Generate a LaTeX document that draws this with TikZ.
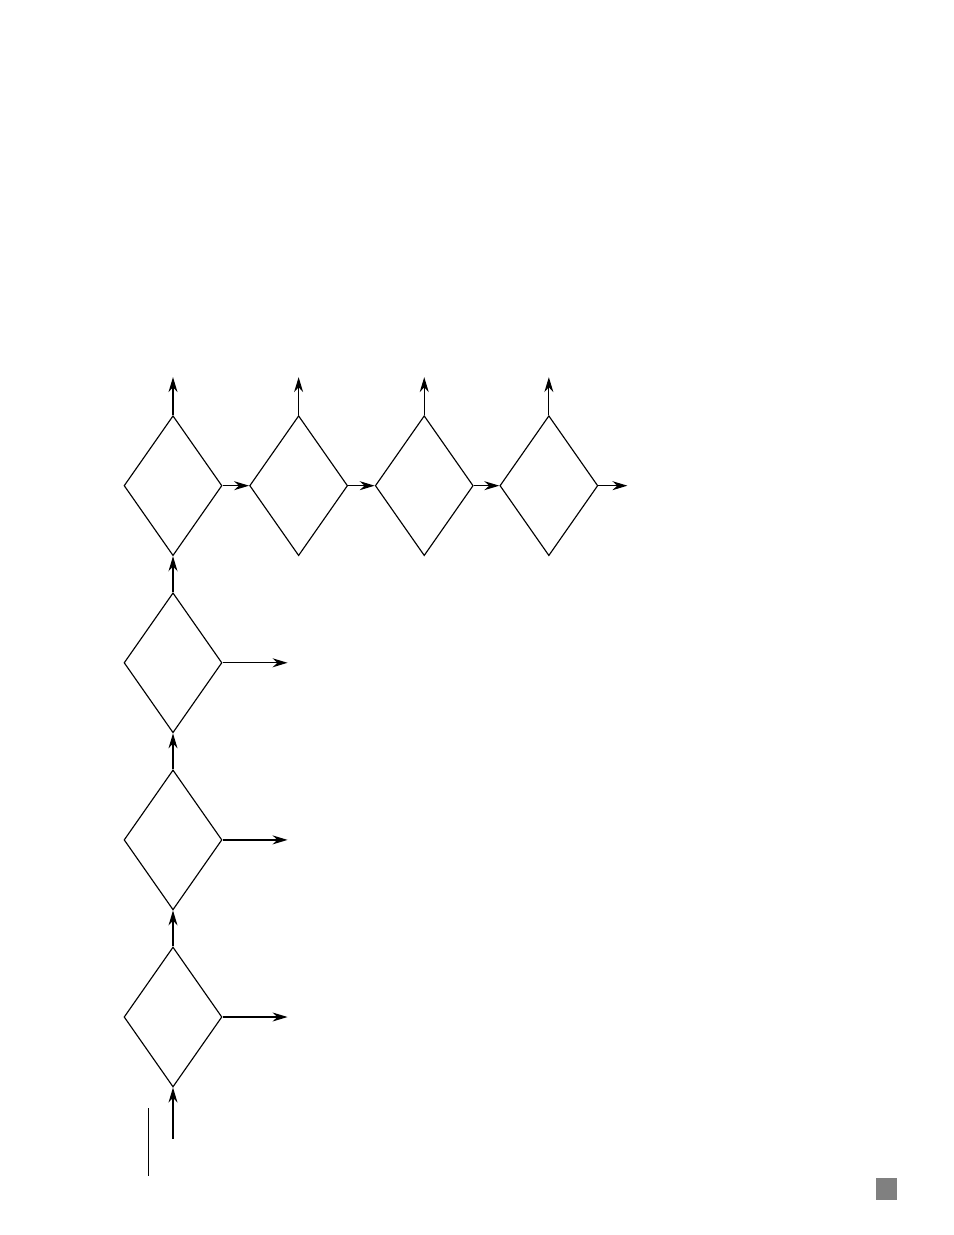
\documentclass[tikz,border=0pt]{standalone}
\usetikzlibrary{arrows.meta, positioning, shapes.geometric}

\begin{document}
\begin{tikzpicture}[x=0.02cm, y=-0.02cm,
		decision/.style={diamond, draw, line width=0.65pt, minimum width=1.96cm,
		minimum height=2.8cm, inner sep=0pt},
		flow/.style={-{Stealth[length=3mm, width=1.8mm]}, line width=0.7pt}
		]
		\useasboundingbox (0,0) rectangle (954,1235);

		\node[decision] (D1) at (173,1017) {};
		\node[decision, above = 0.72cm of D1] (D2) {};
		\node[decision, above = 0.72cm of D2] (D3) {};
		\node[decision, above = 0.72cm of D3] (D4) {};
		\node[decision, right = 0.53cm of D4] (D5) {};
		\node[decision, right = 0.53cm of D5] (D6) {};
		\node[decision, right = 0.51cm of D6] (D7) {};

		\coordinate[below = 1.02cm of D1.south] (in);
		\coordinate[right = 1.3cm of D1.east] (o1);
		\coordinate[right = 1.3cm of D2.east] (o2);
		\coordinate[right = 1.3cm of D3.east] (o3);
		\coordinate[above = 0.76cm of D4.north] (u4);
		\coordinate[above = 0.76cm of D5.north] (u5);
		\coordinate[above = 0.76cm of D6.north] (u6);
		\coordinate[above = 0.76cm of D7.north] (u7);
		\coordinate[right = 0.58cm of D7.east] (o7);

		\draw[flow] (in) -- (D1.south);
		\draw[flow] (D1.north) -- (D2.south);
		\draw[flow] (D2.north) -- (D3.south);
		\draw[flow] (D3.north) -- (D4.south);
		\draw[flow] (D1.east) -- (o1);
		\draw[flow] (D2.east) -- (o2);
		\draw[flow] (D3.east) -- (o3);
		\draw[flow] (D4.east) -- (D5.west);
		\draw[flow] (D5.east) -- (D6.west);
		\draw[flow] (D6.east) -- (D7.west);
		\draw[flow] (D7.east) -- (o7);
		\draw[flow] (D4.north) -- (u4);
		\draw[flow] (D5.north) -- (u5);
		\draw[flow] (D6.north) -- (u6);
		\draw[flow] (D7.north) -- (u7);

		% margin rule and page marker
		\draw[line width=0.5pt] (148,1108) -- (148,1176);
		\fill[gray] (876,1178) rectangle (897,1200);

	\end{tikzpicture}
\end{document}
